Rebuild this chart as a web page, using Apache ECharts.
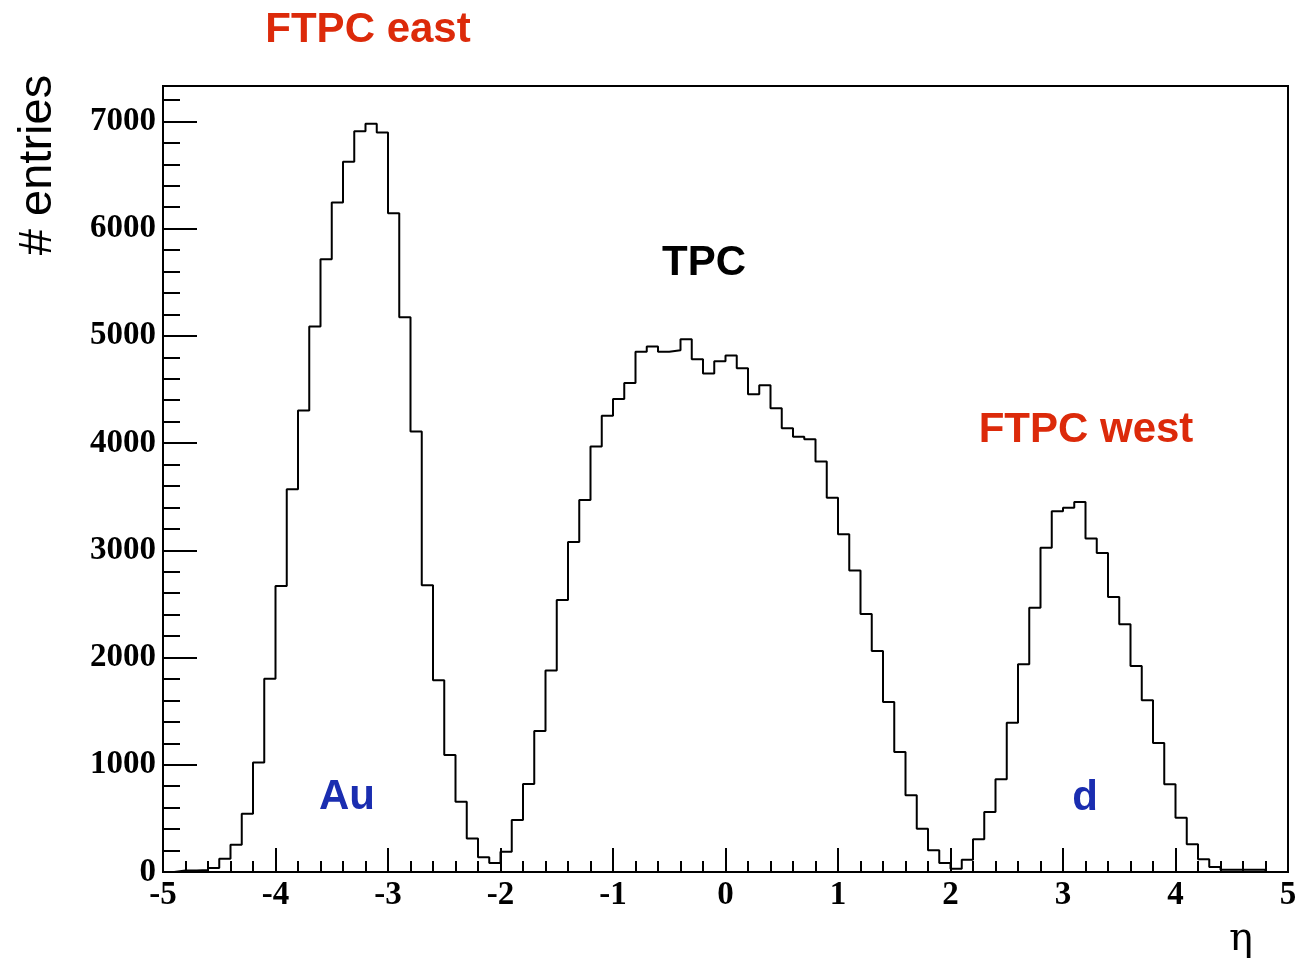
<!DOCTYPE html>
<html>
<head>
<meta charset="utf-8">
<script src="https://cdn.jsdelivr.net/npm/echarts@6/dist/echarts.min.js"></script>
<style>html,body{margin:0;padding:0;background:#fff;}#chart{width:1300px;height:967px;}</style>
</head>
<body>
<div id="chart"></div>
<script>
// Histogram: 100 bins of width 0.1 from -5 to 5 (pseudorapidity)
const X_MIN = -5;
const X_MAX = 5;
const BIN_WIDTH = 0.1;
const binCounts = [
  0, 15, 15, 18, 37, 124, 255, 544, 1020, 1803,
  2668, 3569, 4303, 5087, 5715, 6244, 6623, 6909, 6978, 6897,
  6144, 5174, 4107, 2674, 1788, 1092, 655, 312, 137, 85,
  190, 485, 821, 1315, 1878, 2537, 3078, 3470, 3968, 4254,
  4412, 4561, 4851, 4900, 4851, 4866, 4969, 4782, 4649, 4764,
  4817, 4698, 4456, 4540, 4325, 4139, 4058, 4036, 3828, 3489,
  3150, 2811, 2406, 2061, 1585, 1120, 715, 404, 202, 84,
  31, 115, 305, 560, 864, 1393, 1937, 2465, 3025, 3364,
  3398, 3451, 3109, 2975, 2565, 2310, 1921, 1601, 1203, 818,
  507, 258, 118, 47, 20, 20, 20, 20, 0, 0
];
const yMajorTicks = [0, 1000, 2000, 3000, 4000, 5000, 6000, 7000];
const yMinorTicks = [200, 400, 600, 800, 1200, 1400, 1600, 1800, 2200, 2400, 2600, 2800,
  3200, 3400, 3600, 3800, 4200, 4400, 4600, 4800, 5200, 5400, 5600, 5800,
  6200, 6400, 6600, 6800, 7200];
const Y_MAX = 7330;
const xAxisName = 'η';
const yAxisName = '# entries';
const annotations = [
  { text: 'FTPC east', x: 368, y: 30, color: '#dc2a0a' },
  { text: 'TPC', x: 704, y: 263, color: '#000000' },
  { text: 'FTPC west', x: 1086, y: 430, color: '#dc2a0a' },
  { text: 'Au', x: 347, y: 797, color: '#1a2db0' },
  { text: 'd', x: 1085, y: 798, color: '#1a2db0' }
];

// step outline points at bin low edges
const stepData = binCounts.map((v, i) => [+(X_MIN + i * BIN_WIDTH).toFixed(2), v]);
stepData.push([X_MAX, binCounts[binCounts.length - 1]]);

const labelFont = { fontFamily: 'Liberation Serif', fontWeight: 'bold', fontSize: 33, color: '#000' };
const plain = v => String(v);

const chart = echarts.init(document.getElementById('chart'), null, { renderer: 'canvas' });
chart.setOption({
  animation: false,
  backgroundColor: '#fff',
  grid: { left: 163, right: 12, top: 86, bottom: 95, show: true, borderColor: '#000', borderWidth: 2, backgroundColor: 'transparent' },
  xAxis: {
    type: 'value', min: X_MIN, max: X_MAX, interval: 1,
    axisLine: { show: true, onZero: false, lineStyle: { color: '#000', width: 2 } },
    axisTick: { show: true, inside: true, length: 24, lineStyle: { color: '#000', width: 2 } },
    minorTick: { show: true, splitNumber: 5, length: 11, lineStyle: { color: '#000', width: 2 } },
    axisLabel: Object.assign({ margin: 7, formatter: plain }, labelFont),
    splitLine: { show: false }, minorSplitLine: { show: false }
  },
  yAxis: [{
    type: 'value', min: 0, max: Y_MAX,
    axisLine: { show: true, onZero: false, lineStyle: { color: '#000', width: 2 } },
    axisTick: { show: true, inside: true, length: 34, customValues: yMajorTicks, lineStyle: { color: '#000', width: 2 } },
    axisLabel: Object.assign({ margin: 7, customValues: yMajorTicks, formatter: plain }, labelFont),
    splitLine: { show: false }
  }, {
    type: 'value', min: 0, max: Y_MAX, position: 'left',
    axisLine: { show: false, onZero: false },
    axisTick: { show: true, inside: true, length: 17, customValues: yMinorTicks, lineStyle: { color: '#000', width: 2 } },
    axisLabel: { show: false },
    splitLine: { show: false }
  }],
  series: [{
    type: 'line', step: 'end', data: stepData, symbol: 'none',
    lineStyle: { color: '#000', width: 2 }, clip: true, z: 3
  }],
  graphic: annotations.map(a => ({
    type: 'text', x: a.x, y: a.y,
    style: { text: a.text, fill: a.color, font: 'bold 42px "Liberation Sans"', textAlign: 'center', textVerticalAlign: 'middle' }
  })).concat([
    { type: 'text', x: 38, y: 165, rotation: Math.PI / 2,
      style: { text: yAxisName, fill: '#000', font: '47px "Liberation Sans"', textAlign: 'center', textVerticalAlign: 'middle' } },
    { type: 'text', x: 1241, y: 940,
      style: { text: xAxisName, fill: '#000', font: '40px "DejaVu Serif"', textAlign: 'center', textVerticalAlign: 'middle' } }
  ])
});
</script>
</body>
</html>
